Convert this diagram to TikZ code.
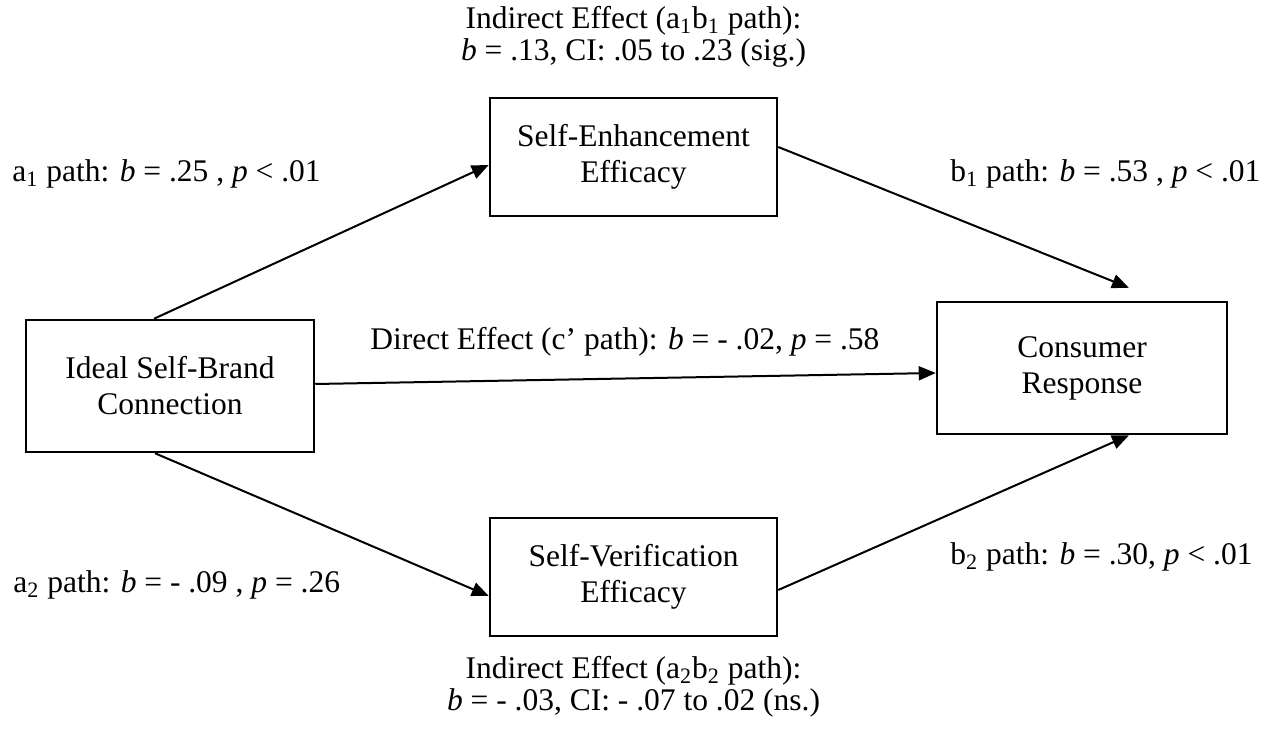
\documentclass[tikz,border=0pt]{standalone}
\usepackage{fontspec}
\setmainfont{Liberation Serif}
\usetikzlibrary{arrows.meta,calc}
\tikzset{
  box/.style={draw, line width=1.25pt, align=center, inner sep=0pt,
    font=\fontsize{15.75pt}{18pt}\selectfont},
  lbl/.style={inner sep=0pt, align=center, font=\fontsize{15.75pt}{16pt}\selectfont},
  arr/.style={line width=1pt, -{Triangle[length=8.5pt,width=7pt]}}
}
\newcommand{\sbs}[1]{\textsubscript{#1}}
\begin{document}
\begin{tikzpicture}[x=0.5pt,y=-0.5pt]
\useasboundingbox (0,0) rectangle (1274,731);
% boxes
\node[box, minimum width=144pt, minimum height=66pt] (isbc) at (170,386) {Ideal Self-Brand\\Connection};
\node[box, minimum width=143.5pt, minimum height=59pt] (see) at (633.5,157) {Self-Enhancement\\Efficacy};
\node[box, minimum width=143.5pt, minimum height=59pt] (sve) at (633.5,577) {Self-Verification\\Efficacy};
\node[box, minimum width=145pt, minimum height=66pt] (cr) at (1082,368) {Consumer\\Response};
% arrow end points
\coordinate (b1end) at ([xshift=23.5pt,yshift=6.5pt]cr.north);
\coordinate (b2end) at ([xshift=23.5pt]cr.south);
% arrows
\draw[arr] ([xshift=-8pt]isbc.north) -- ([yshift=-4pt]see.west);
\draw[arr] ([yshift=5pt]see.east) -- (b1end);
\draw[arr] ([yshift=1pt]isbc.east) -- ([yshift=-2.5pt]cr.west);
\draw[arr] ([xshift=-7.5pt]isbc.south) -- ([yshift=-9.5pt]sve.west);
\draw[arr] ([yshift=-6.5pt]sve.east) -- (b2end);
% labels
\node[lbl, anchor=north] (top) at (633.5,6) {Indirect Effect (a\sbs{1}b\sbs{1} path):\\\textit{b} = .13, CI: .05 to .23 (sig.)};
\node[lbl, anchor=west] (la1) at (12,174) {a\sbs{1} path: \textit{b} = .25 , \textit{p} < .01};
\node[lbl, anchor=west] (lb1) at (950,174) {b\sbs{1} path: \textit{b} = .53 , \textit{p} < .01};
\node[lbl, anchor=west] (lc) at (370,342) {Direct Effect (c’ path): \textit{b} = - .02, \textit{p} = .58};
\node[lbl, anchor=west] (la2) at (13,585) {a\sbs{2} path: \textit{b} = - .09 , \textit{p} = .26};
\node[lbl, anchor=west] (lb2) at (950,557) {b\sbs{2} path: \textit{b} = .30, \textit{p} < .01};
\node[lbl, anchor=north] (bot) at (633.5,656) {Indirect Effect (a\sbs{2}b\sbs{2} path):\\\textit{b} = - .03, CI: - .07 to .02 (ns.)};
\end{tikzpicture}
\end{document}
